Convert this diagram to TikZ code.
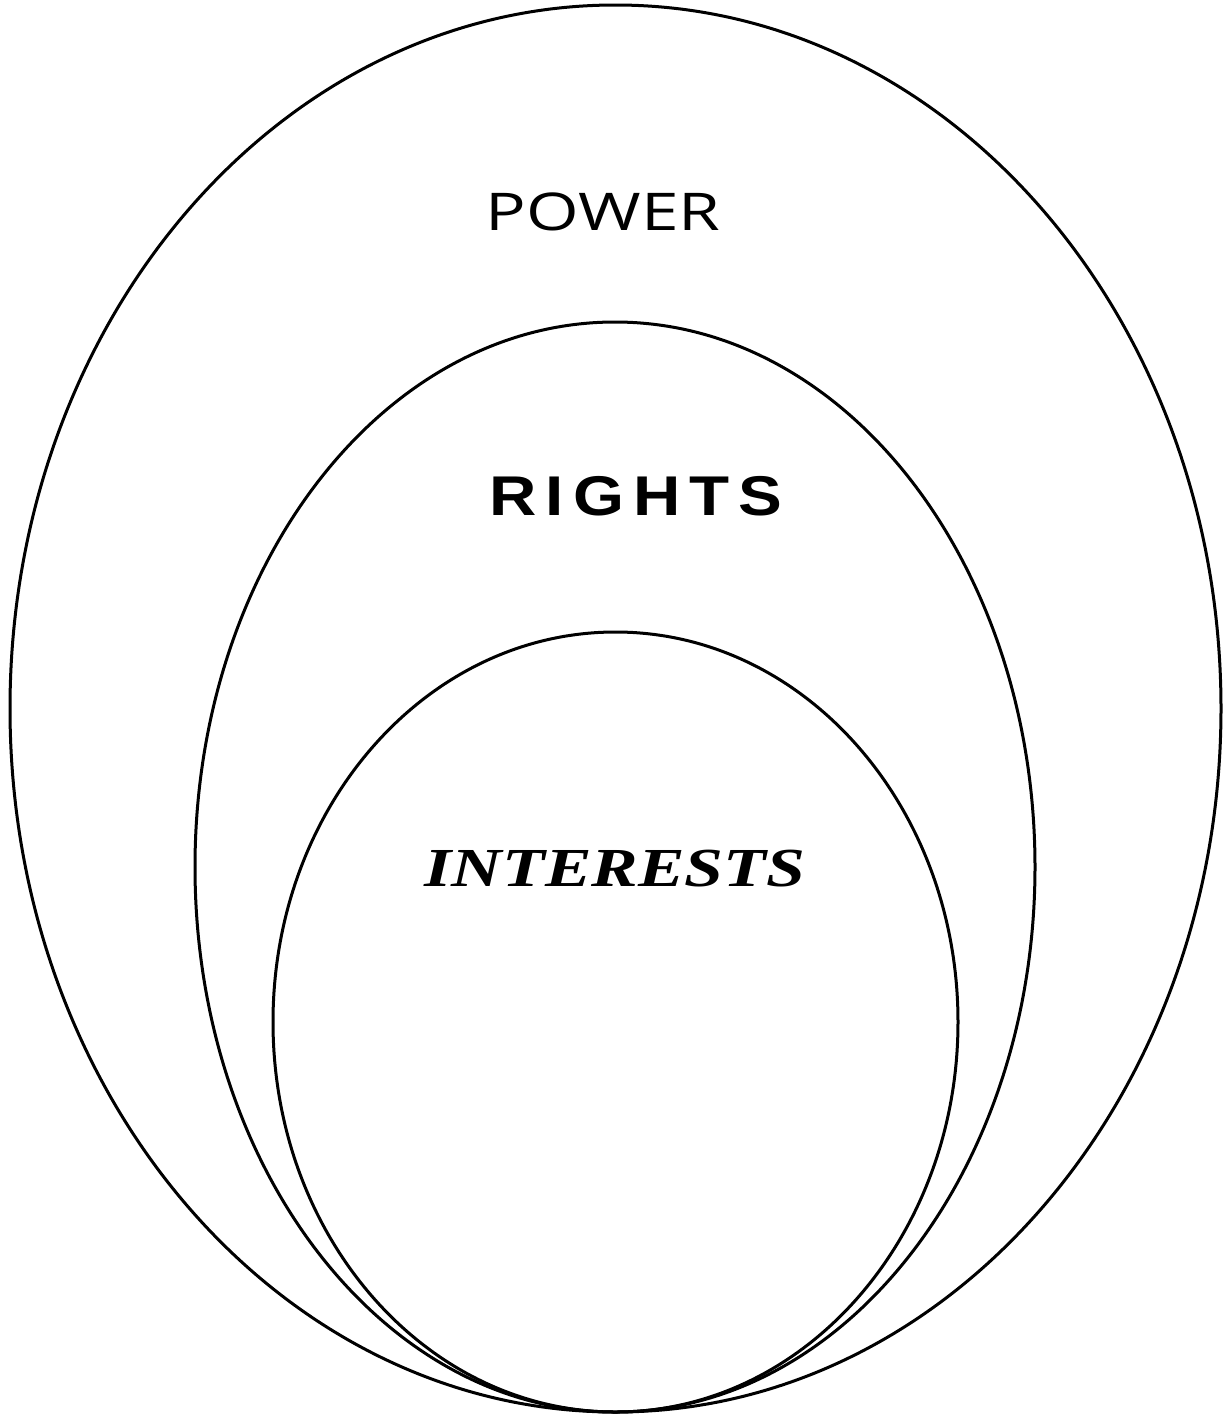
\documentclass[tikz,border=0pt]{standalone}
\usepackage{fontspec}
\setmainfont{Liberation Serif}
\newfontfamily\powerfont{Open Sans}
\newfontfamily\rightsfont[LetterSpace=14]{Liberation Sans Bold}
\newfontfamily\intfont{Liberation Serif Bold Italic}
\begin{document}
\begin{tikzpicture}[x=1pt,y=-1pt,
  ring/.style={draw=black,line width=3pt},
  lbl/.style={inner sep=0pt,anchor=base}]
\useasboundingbox (0,0) rectangle (1224,1416);
\draw[ring] (615.5,708.5) ellipse [x radius=605.5,y radius=703.5];
\draw[ring] (615,867) ellipse [x radius=420,y radius=545];
\draw[ring] (615.5,1022) ellipse [x radius=342.5,y radius=390];
\node[lbl,xscale=1.3] (power) at (603,230) {\fontsize{52}{60}\selectfont\powerfont POWER};
\node[lbl,xscale=1.17] (rights) at (636,515) {\fontsize{56}{64}\selectfont\rightsfont RIGHTS};
\node[lbl,xscale=1.27] (interests) at (615,886) {\fontsize{55}{64}\selectfont\intfont INTERESTS};
\end{tikzpicture}
\end{document}
